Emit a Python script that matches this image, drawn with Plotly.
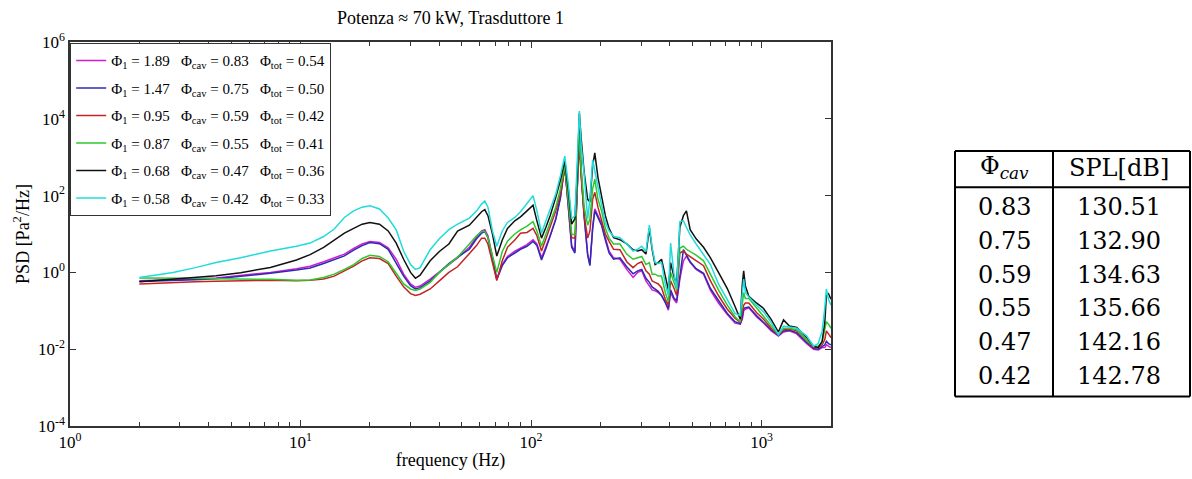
import plotly.graph_objects as go

# Frequency grid (Hz) shared by all spectra
freq_hz = [2.0, 2.8, 3.5, 4.3, 5.5, 7.4, 9.6, 11.0, 12.6, 14.0, 15.5, 17.0, 18.5, 20.0,
           22.0, 24.0, 26.0, 28.0, 30.0, 31.5, 33.0, 36.5, 40.0, 44.0, 48.0, 54.0, 58.0,
           61.0, 63.0, 65.0, 68.0, 71.0, 75.0, 79.0, 85.0, 90.0, 96.0, 102.0, 106.0, 111.0,
           116.0, 121.0, 128.0, 134.0, 140.0, 145.0, 150.0, 155.0, 159.0, 162.0, 165.0,
           170.0, 176.0, 180.0, 185.0, 189.0, 195.0, 202.0, 210.0, 218.0, 228.0, 243.0,
           260.0, 277.0, 290.0, 302.0, 315.0, 326.0, 335.0, 345.0, 356.0, 368.0, 382.0,
           394.0, 403.0, 416.0, 428.0, 442.0, 458.0, 472.0, 490.0, 520.0, 560.0, 600.0,
           650.0, 710.0, 767.0, 808.0, 825.0, 836.0, 850.0, 880.0, 950.0, 1020.0, 1100.0,
           1183.0, 1245.0, 1320.0, 1420.0, 1570.0, 1680.0, 1760.0, 1830.0, 1880.0, 1910.0,
           1950.0, 2000.0]

# PSD [Pa^2/Hz] for each operating point
psd_phi1_189 = [0.61, 0.63, 0.67, 0.72, 0.82, 1.0, 1.25, 1.45, 1.9, 2.4, 3.0, 4.2, 5.5, 6.4,
                6.0, 4.4, 2.2, 0.9, 0.5, 0.41, 0.44, 0.67, 1.0, 1.6, 2.4, 4.5, 8.5,
                12, 13, 9, 2.5, 0.67, 1.6, 2.6, 3.6, 4.3, 5.3, 7.1, 5.5, 2.4,
                4.5, 9, 25, 90, 590, 60, 5, 3.6, 200, 6300, 400,
                30, 3, 1.6, 15, 45, 30, 19, 8, 3.6, 2.4, 2.2,
                1.2, 0.74, 1.0, 1.1, 0.6, 0.45, 0.35, 0.33, 0.3, 0.25, 0.17,
                0.104, 0.3, 0.2, 0.16, 0.67, 2.0, 2.66, 1.8, 1.2, 0.9, 0.34,
                0.16, 0.08, 0.048, 0.045, 0.06, 0.1, 0.11, 0.12, 0.07, 0.048, 0.03,
                0.022, 0.028, 0.03, 0.025, 0.014, 0.0099, 0.0095, 0.011, 0.011, 0.013,
                0.012, 0.011]

psd_phi1_147 = [0.58, 0.6, 0.64, 0.68, 0.78, 0.95, 1.15, 1.3, 1.7, 2.1, 2.7, 3.8, 5.0, 6.0,
                5.6, 4.0, 1.8, 0.8, 0.45, 0.37, 0.4, 0.6, 1.0, 1.7, 2.5, 4.0, 7.5,
                10.5, 11.6, 8, 2.3, 0.65, 1.5, 2.4, 3.2, 4.0, 4.8, 6.4, 5.0, 2.1,
                4.2, 8.5, 24, 85, 600, 55, 4.5, 3.2, 180, 6000, 380,
                28, 2.8, 1.5, 14, 40, 27, 17, 7, 3.2, 2.2, 2.4,
                1.4, 0.92, 1.1, 1.2, 0.7, 0.55, 0.42, 0.37, 0.32, 0.25, 0.17,
                0.115, 0.35, 0.22, 0.18, 0.8, 3.9, 2.8, 1.9, 1.25, 0.95, 0.38,
                0.18, 0.085, 0.052, 0.046, 0.07, 0.115, 0.12, 0.125, 0.075, 0.05, 0.032,
                0.023, 0.03, 0.031, 0.027, 0.015, 0.0105, 0.01, 0.012, 0.013, 0.016,
                0.014, 0.013]

psd_phi1_095 = [0.5, 0.55, 0.57, 0.59, 0.61, 0.62, 0.61, 0.62, 0.67, 0.8, 1.1, 1.45, 2.0, 2.4,
                2.3, 1.7, 0.8, 0.42, 0.28, 0.25, 0.27, 0.37, 0.6, 1.0, 1.4, 3.0, 5,
                7.8, 7.8, 5.5, 1.8, 0.61, 2.0, 4.5, 7, 10.5, 11, 14, 9, 3.6,
                7.5, 15, 40, 110, 530, 70, 8, 7.8, 150, 2300, 300,
                30, 7.8, 12, 80, 122, 50, 25, 10, 6.4, 4.0, 3.9,
                1.9, 1.33, 1.7, 1.9, 1.1, 0.9, 0.6, 0.55, 0.5, 0.4, 0.2,
                0.14, 0.6, 0.4, 0.25, 3.2, 3.6, 3.0, 2.6, 2.0, 1.5, 0.6,
                0.25, 0.11, 0.064, 0.05, 0.1, 0.14, 0.16, 0.16, 0.09, 0.06, 0.035,
                0.024, 0.032, 0.033, 0.03, 0.016, 0.011, 0.011, 0.013, 0.018, 0.03,
                0.025, 0.02]

psd_phi1_087 = [0.72, 0.72, 0.70, 0.68, 0.67, 0.66, 0.62, 0.63, 0.74, 0.9, 1.2, 1.6, 2.3, 2.8,
                2.6, 1.9, 0.95, 0.5, 0.37, 0.34, 0.37, 0.55, 1.0, 1.6, 2.5, 5.5, 9,
                11.6, 11.6, 8, 3, 1.0, 3.5, 6.5, 10, 12.8, 16, 21, 12, 4.8,
                10, 20, 50, 150, 650, 80, 10, 9.5, 300, 4200, 500,
                50, 17, 25, 150, 270, 80, 41, 14, 7.8, 5.5, 5.5,
                3.0, 2.2, 2.4, 2.6, 1.6, 1.8, 0.9, 0.9, 0.8, 0.8, 0.3,
                0.17, 1.0, 0.6, 0.35, 4.3, 4.8, 4.0, 3.5, 2.8, 2.0, 0.9,
                0.35, 0.14, 0.07, 0.052, 0.2, 0.3, 0.21, 0.21, 0.12, 0.07, 0.04,
                0.024, 0.035, 0.035, 0.032, 0.017, 0.012, 0.012, 0.015, 0.03, 0.052,
                0.045, 0.035]

psd_phi1_068 = [0.57, 0.66, 0.72, 0.82, 0.98, 1.35, 2.1, 2.9, 4.5, 6.8, 10.5, 14, 18, 20,
                18, 12, 5.8, 2.2, 1.0, 0.7, 0.85, 2.0, 3.5, 5.5, 12, 17, 28,
                38, 43, 30, 10, 2.66, 7, 14, 22, 28, 40, 56, 22, 7.8,
                15, 30, 90, 250, 800, 150, 18, 25, 500, 14000, 3000,
                400, 80, 68, 600, 1290, 300, 110, 30, 14, 8, 7.1,
                5.5, 3.9, 3.6, 3.9, 3.0, 14, 4, 1.6, 1.8, 2.2, 0.8,
                0.35, 1.8, 0.8, 0.5, 15, 30, 40, 13, 7.5, 4.5, 2.4,
                1.0, 0.38, 0.13, 0.06, 0.5, 1.1, 0.45, 0.24, 0.16, 0.115, 0.06,
                0.028, 0.058, 0.04, 0.037, 0.02, 0.012, 0.011, 0.016, 0.05, 0.25,
                0.28, 0.2]

psd_phi1_058 = [0.74, 1.0, 1.33, 1.8, 2.4, 3.6, 4.8, 5.8, 8.6, 13.5, 27, 40, 50, 54,
                45, 26, 12.8, 3.6, 1.6, 1.2, 1.33, 3.9, 7.5, 13, 18, 26, 40,
                60, 72, 50, 12, 4.8, 12, 20, 27, 38, 62, 100, 40, 10.5,
                22, 45, 110, 326, 1070, 200, 25, 30, 800, 16000, 2000,
                350, 25, 80, 850, 400, 170, 60, 20, 12, 8.6, 8.0,
                5.5, 3.6, 4.0, 4.8, 3.5, 17, 4.5, 1.8, 1.7, 1.8, 0.5,
                0.25, 5.8, 1.0, 0.37, 21, 22, 15, 9.5, 5.5, 2.8, 1.6,
                0.5, 0.2, 0.086, 0.075, 0.3, 0.67, 0.3, 0.23, 0.14, 0.094, 0.05,
                0.024, 0.04, 0.038, 0.035, 0.022, 0.012, 0.014, 0.029, 0.12, 0.37,
                0.2, 0.14]

series_psd = [psd_phi1_189, psd_phi1_147, psd_phi1_095, psd_phi1_087, psd_phi1_068, psd_phi1_058]

# Legend parameters
phi_1 = ["1.89", "1.47", "0.95", "0.87", "0.68", "0.58"]
phi_cav = ["0.83", "0.75", "0.59", "0.55", "0.47", "0.42"]
phi_tot = ["0.54", "0.50", "0.42", "0.41", "0.36", "0.33"]
line_colors = ["#d21cd2", "#2b2bb4", "#c42424", "#2ec82e", "#111111", "#1fdcdc"]

# Summary table
table_phi_cav = ["0.83", "0.75", "0.59", "0.55", "0.47", "0.42"]
table_spl_db = ["130.51", "132.90", "134.63", "135.66", "142.16", "142.78"]

x_tick_vals = [1, 10, 100, 1000]
x_tick_text = ["10<sup>0</sup>", "10<sup>1</sup>", "10<sup>2</sup>", "10<sup>3</sup>"]
y_tick_vals = [1e-4, 1e-2, 1e0, 1e2, 1e4, 1e6]
y_tick_text = ["10<sup>-4</sup>", "10<sup>-2</sup>", "10<sup>0</sup>", "10<sup>2</sup>",
               "10<sup>4</sup>", "10<sup>6</sup>"]
x_minor = [m * d for d in (1, 10, 100, 1000) for m in range(2, 10) if m * d <= 2000]

W, H = 1192, 479
L, R, T, B = 70, 831, 42, 433
SERIF = "Liberation Serif, Times New Roman, serif"
TABLE_FONT = "DejaVu Serif, serif"
SP = "\u00a0\u00a0\u00a0"

fig = go.Figure()
for i, vals in enumerate(series_psd):
    name = (f"Φ<sub>1</sub> = {phi_1[i]}{SP}Φ<sub>cav</sub> = {phi_cav[i]}"
            f"{SP}Φ<sub>tot</sub> = {phi_tot[i]}")
    fig.add_trace(go.Scatter(
        x=freq_hz, y=vals, mode="lines", name=name, legendgroup=f"g{i}",
        line=dict(color=line_colors[i], width=1.5),
    ))


def px_x(px):
    return (px - L) / (R - L)


def px_y(py):
    return (B - py) / (B - T)


shapes = []
annotations = []

# Table frame
tl, tm, tr = 955, 1053, 1190
tt, th, tb = 153, 190, 403
for (x0, y0, x1, y1) in [
    (tl, tt, tr, tt), (tl, tb, tr, tb), (tl, tt, tl, tb), (tr, tt, tr, tb),
    (tm, tt, tm, tb), (tl, th, tr, th),
]:
    shapes.append(dict(type="line", xref="paper", yref="paper",
                       x0=px_x(x0), y0=px_y(y0), x1=px_x(x1), y1=px_y(y1),
                       line=dict(color="black", width=2)))

col1_c = (tl + tm) / 2
col2_c = (tm + tr) / 2 - 3
cell_font = dict(family=TABLE_FONT, size=24, color="black")


def cell(text, cx, cy):
    return dict(text=text, x=px_x(cx), y=px_y(cy), xref="paper", yref="paper",
                xanchor="center", yanchor="middle", showarrow=False, font=cell_font)


annotations.append(cell("Φ<sub><i>cav</i></sub>", col1_c, 170))
annotations.append(cell("SPL[dB]", col2_c, 170))
row_y0, row_pitch = 210, 34.4
for i, (a, b) in enumerate(zip(table_phi_cav, table_spl_db)):
    annotations.append(cell(a, col1_c, row_y0 + i * row_pitch))
    annotations.append(cell(b, col2_c, row_y0 + i * row_pitch))

axis_common = dict(
    showline=True, linecolor="#333333", linewidth=1.5, mirror="ticks",
    ticks="inside", tickcolor="#333333", tickwidth=1.2, ticklen=6,
    showgrid=False, zeroline=False,
    tickfont=dict(family=SERIF, size=17, color="black"),
)

fig.update_layout(
    width=W, height=H,
    margin=dict(l=L, r=W - R, t=T, b=H - B, pad=0),
    paper_bgcolor="white", plot_bgcolor="white",
    title=dict(text="Potenza ≈ 70 kW, Trasduttore 1", x=0.5, xref="paper",
               y=1 - 18 / H, yanchor="middle",
               font=dict(family=SERIF, size=18, color="black")),
    xaxis=dict(type="log", range=[0, 3.30103], tickvals=x_tick_vals, ticktext=x_tick_text,
               minor=dict(tickvals=x_minor, ticks="inside", ticklen=4,
                          tickcolor="#333333", tickwidth=1),
               title=dict(text="frequency (Hz)", standoff=2,
                          font=dict(family=SERIF, size=18, color="black")),
               **axis_common),
    yaxis=dict(type="log", range=[-4, 6], tickvals=y_tick_vals, ticktext=y_tick_text,
               title=dict(text="PSD [Pa<sup>2</sup>/Hz]", standoff=4,
                          font=dict(family=SERIF, size=18, color="black")),
               **axis_common),
    legend=dict(x=0.0, y=1.0 - 1 / (B - T), xanchor="left", yanchor="top",
                bgcolor="white", bordercolor="#333333", borderwidth=1.2,
                font=dict(family=SERIF, size=15, color="black"),
                tracegroupgap=5, itemwidth=30),
    showlegend=True,
    shapes=shapes,
    annotations=annotations,
)

fig.write_html("out.html")
